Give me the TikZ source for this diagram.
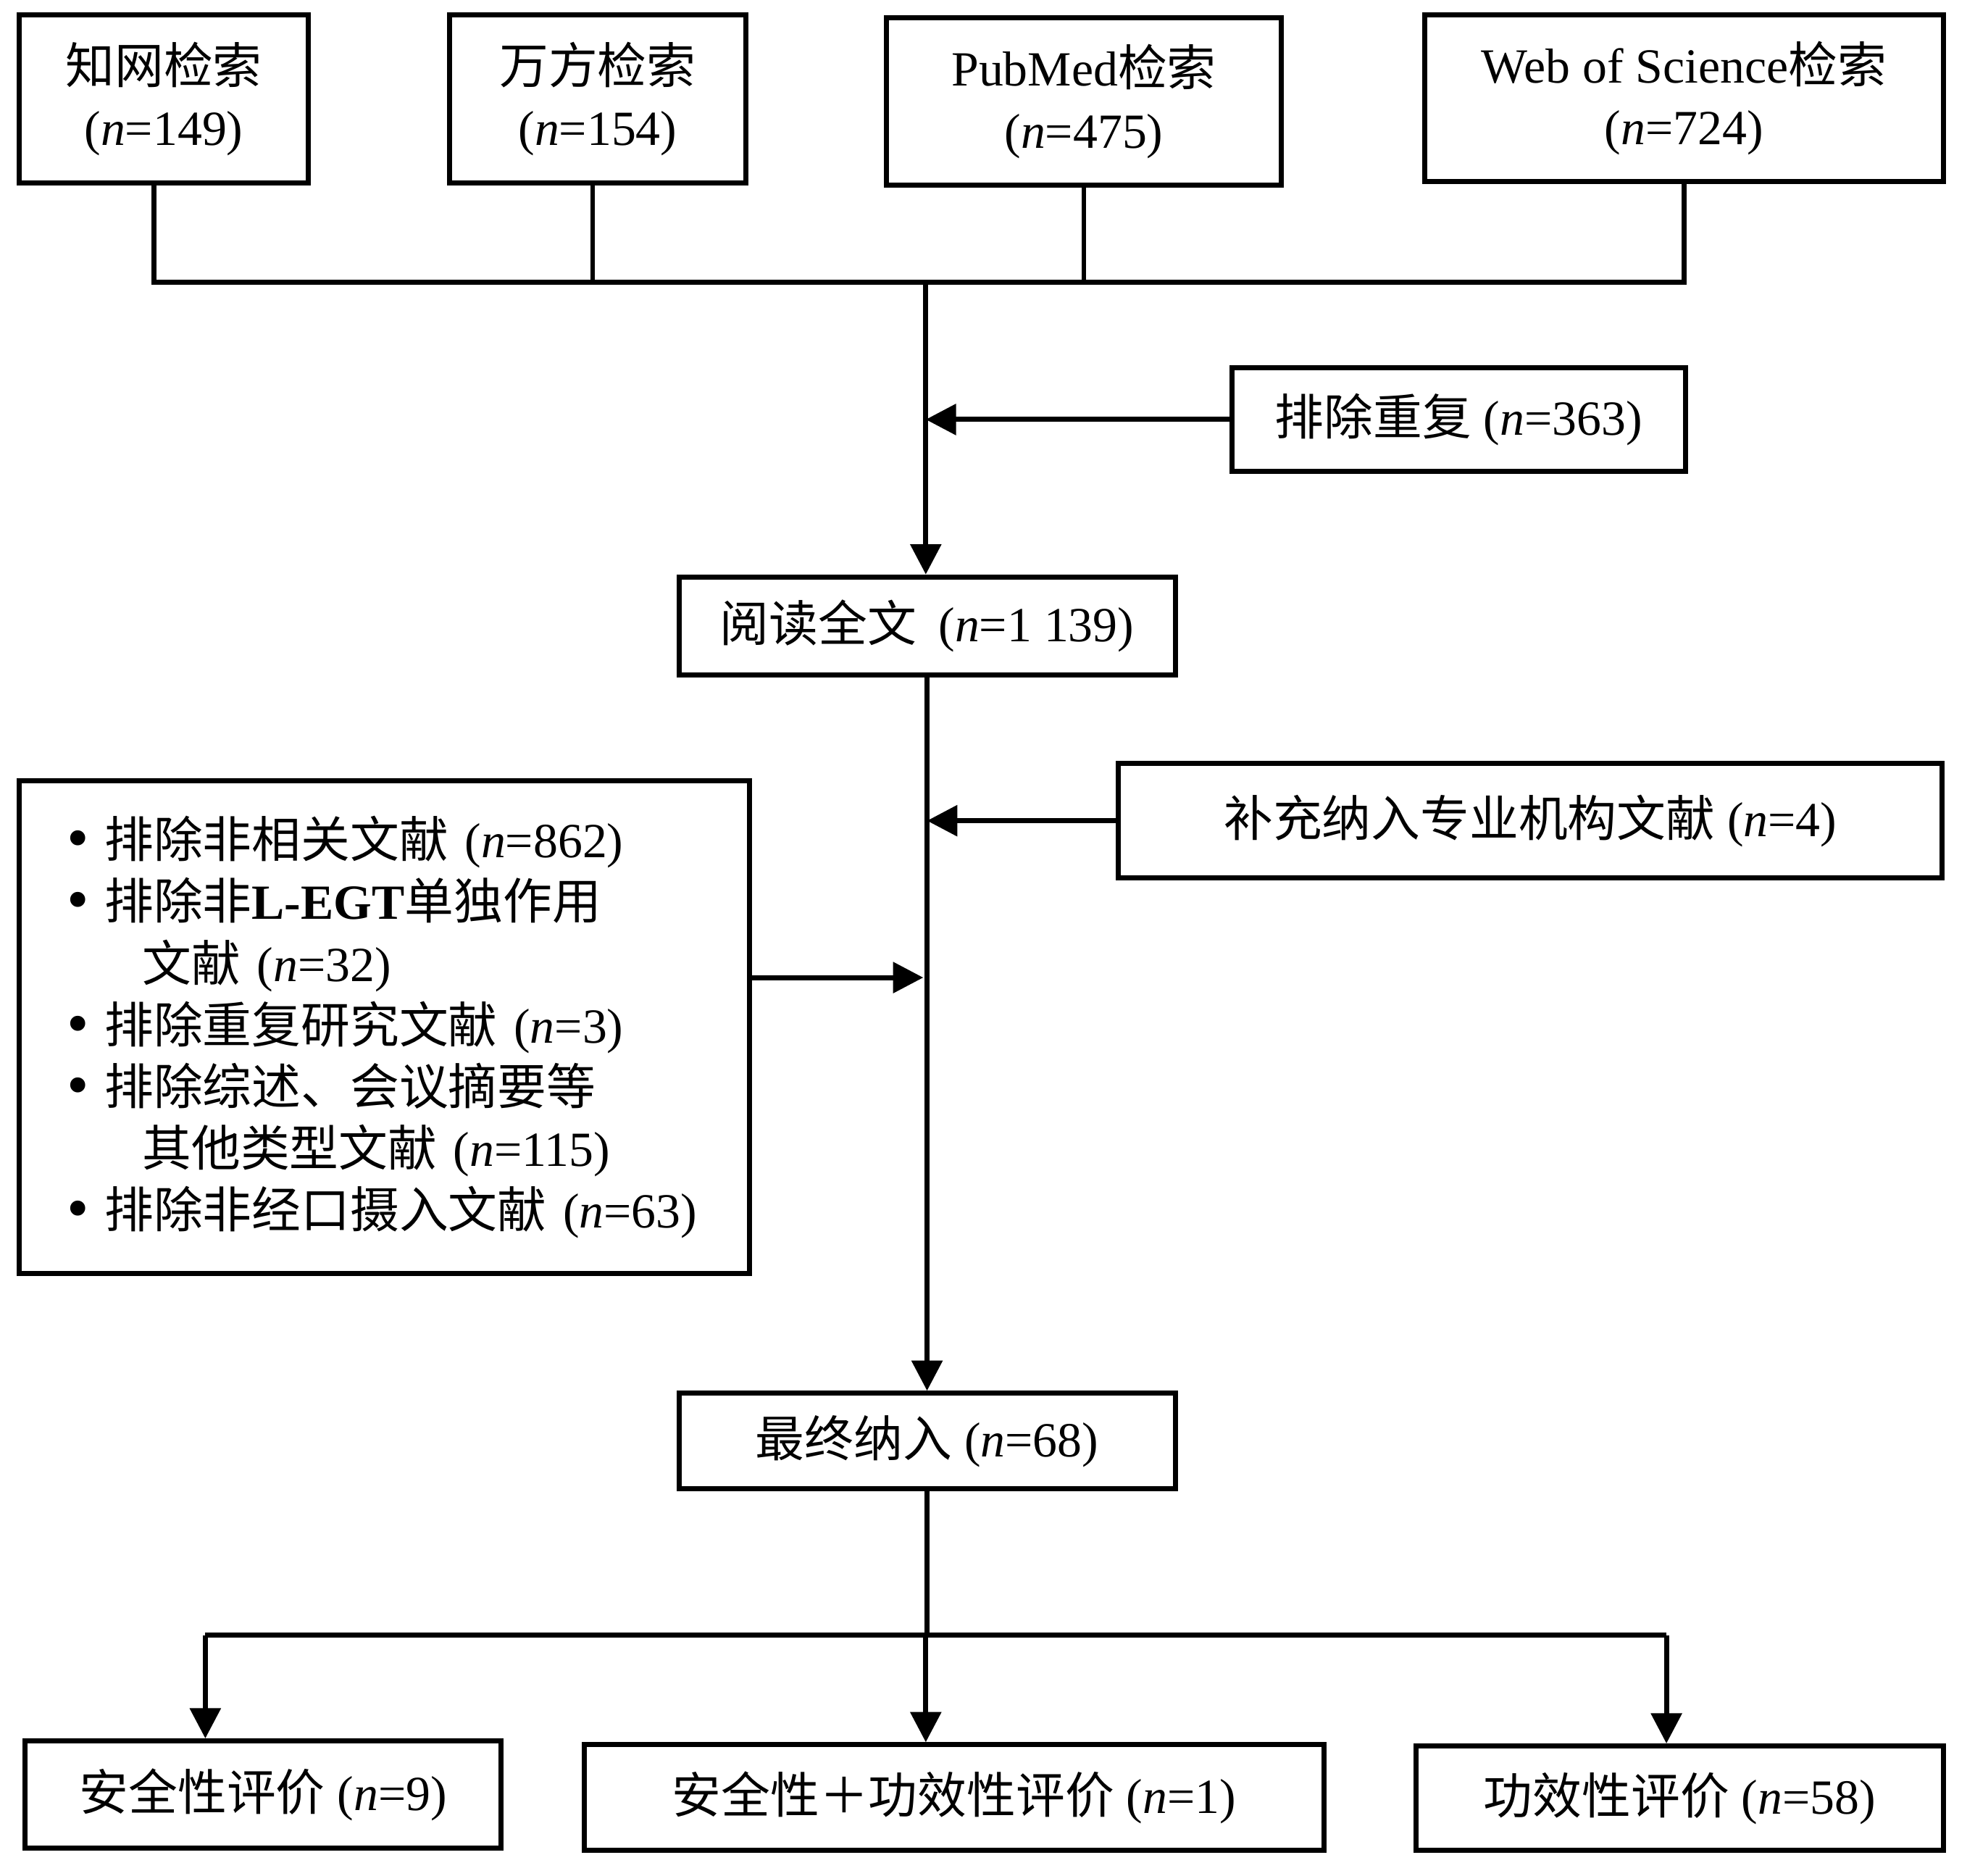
\documentclass[tikz,border=0pt]{standalone}
\usepackage{fontspec}
\setmainfont{Liberation Serif}
\newfontfamily\cjk{Noto Sans CJK SC}
\newcommand\zh[1]{{\cjk #1}}
\newcommand\fs{\fontsize{19.5}{24.5}\selectfont}
\newcommand\bul{\makebox[14pt][l]{\hspace*{-1pt}\raisebox{-0.6pt}{\fontsize{25}{25}\selectfont\textbullet}}}
\usetikzlibrary{arrows.meta}
\begin{document}
\begin{tikzpicture}[x=0.5pt,y=-0.5pt,
  box/.style={draw,line width=2pt,inner sep=0pt,align=center,font=\fs},
  ln/.style={line width=2pt},
  arr/.style={line width=2pt,-{Triangle[length=12pt,width=12pt]}}]
\useasboundingbox[fill=white] (0,0) rectangle (1568,1489);

% database boxes
\node[box,minimum width=115pt,minimum height=66.5pt] (b1) at (130,78.5) {\zh{知网检索}\\(\textit{n}=149)};
\node[box,minimum width=117.5pt,minimum height=66.5pt] (b2) at (474.5,78.5) {\zh{万方检索}\\(\textit{n}=154)};
\node[box,minimum width=156.5pt,minimum height=66.5pt] (b3) at (860.5,80.5) {PubMed\zh{检索}\\(\textit{n}=475)};
\node[box,minimum width=206pt,minimum height=66pt] (b4) at (1337,78) {Web of Science\zh{检索}\\(\textit{n}=724)};

\coordinate (bus) at (735,224);
\draw[ln] ([xshift=-4pt]b1.south) |- (bus);
\draw[ln] (b4.south) |- (bus);
\draw[ln] ([xshift=-2pt]b2.south) -- ([xshift=-2pt]b2.south |- bus);
\draw[ln] (b3.south) -- (b3.south |- bus);

% duplicates
\node[box,minimum width=180pt,minimum height=41pt] (dup) at (1158,333) {\zh{排除重复} (\textit{n}=363)};
\node[box,minimum width=197pt,minimum height=39pt] (read) at (736,497) {\zh{阅读全文}\hspace{0.45em}(\textit{n}=1 139)};
\draw[arr] (bus) -- (bus |- read.north);
\draw[arr] (dup.west) -- (dup.west -| bus);

% supplementary
\node[box,minimum width=327pt,minimum height=45.5pt] (supp) at (1215,651.5) {\zh{补充纳入专业机构文献} (\textit{n}=4)};

% exclusions
\node[box,minimum height=195.5pt,text width=250pt,inner xsep=20pt,align=left] (excl) at (305,815.5) {%
\bul\zh{排除非相关文献} (\textit{n}=862)\\
\bul\zh{排除非}\textbf{L-EGT}\zh{单独作用}\\
\hspace*{29pt}\zh{文献} (\textit{n}=32)\\
\bul\zh{排除重复研究文献} (\textit{n}=3)\\
\bul\zh{排除综述、会议摘要等}\\
\hspace*{29pt}\zh{其他类型文献} (\textit{n}=115)\\
\bul\zh{排除非经口摄入文献} (\textit{n}=63)};

\node[box,minimum width=197pt,minimum height=38pt] (final) at (736,1144) {\zh{最终纳入} (\textit{n}=68)};
\draw[arr] (read.south) -- (final.north);
\draw[arr] (supp.west) -- (supp.west -| read.south);
\coordinate (la) at (733,776);
\draw[arr] (excl.east |- la) -- (la);

% outcomes
\node[box,minimum width=189pt,minimum height=42.5pt] (s1) at (209,1424.5) {\zh{安全性评价} (\textit{n}=9)};
\node[box,minimum width=293.5pt,minimum height=42pt] (s2) at (757.5,1427) {\zh{安全性＋功效性评价} (\textit{n}=1)};
\node[box,minimum width=209.5pt,minimum height=41.5pt] (s3) at (1333.5,1427.5) {\zh{功效性评价} (\textit{n}=58)};

\coordinate (bus2) at (735,1298);
\coordinate (a1) at (163,1298);
\coordinate (a3) at (1323,1298);
\draw[ln] (final.south) -- (final.south |- bus2);
\draw[ln] (a1) -- (a3);
\draw[arr] (a1) -- (a1 |- s1.north);
\draw[arr] (bus2) -- (bus2 |- s2.north);
\draw[arr] (a3) -- (a3 |- s3.north);
\end{tikzpicture}
\end{document}
